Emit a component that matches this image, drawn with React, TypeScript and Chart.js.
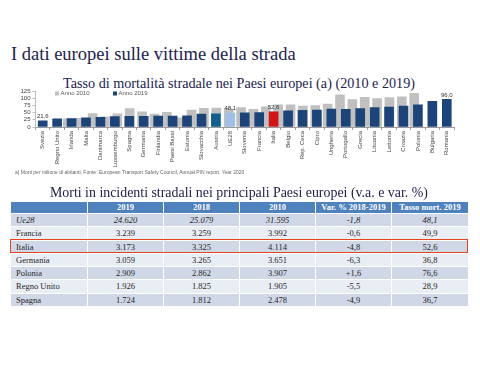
import React, { useEffect, useRef } from "react";
import { Chart, registerables } from "chart.js";

Chart.register(...registerables);

// ---------- chart data ----------
const countries = [
  "Svezia", "Regno Unito", "Irlanda", "Malta", "Danimarca", "Lussemburgo", "Spagna",
  "Germania", "Finlandia", "Paesi Bassi", "Estonia", "Slovacchia", "Austria", "UE28",
  "Slovenia", "Francia", "Italia", "Belgio", "Rep. Ceca", "Cipro", "Ungheria",
  "Portogallo", "Grecia", "Lituania", "Lettonia", "Croazia", "Polonia", "Bulgaria", "Romania",
];
const rate2010 = [28, 30, 47, 35, 46, 64, 53, 45, 51, 32, 59, 65, 66, 63, 67, 61, 70, 77, 77, 73, 74, 80, 112, 95, 103, 99, 102, 105, 117];
const rate2019 = [21.6, 28, 29, 32, 34, 36, 36.7, 36.8, 38, 38, 39, 45, 46, 48.1, 49, 49.9, 52.6, 56, 58, 59, 62, 61, 64, 67, 69, 73, 76.6, 89, 96.0];
const labelledCountries = ["Svezia", "UE28", "Italia", "Romania"];
const yMin = 0;
const yMax = 125;
const yStep = 25;
const seriesNames = ["Anno 2019", "Anno 2010"];
const footnote = "a)   Morti per milione di abitanti; Fonte: European Transport Safety Council, Annual PIN report. Year 2020";

// ---------- table data ----------
const tableHeader = ["", "2019", "2018", "2010", "Var. % 2018-2019", "Tasso mort. 2019"];
const tableCountries = ["Ue28", "Francia", "Italia", "Germania", "Polonia", "Regno Unito", "Spagna"];
const deaths2019 = [24620, 3239, 3173, 3059, 2909, 1926, 1724];
const deaths2018 = [25079, 3259, 3325, 3265, 2862, 1825, 1812];
const deaths2010 = [31595, 3992, 4114, 3651, 3907, 1905, 2478];
const varPct = [-1.8, -0.6, -4.8, -6.3, 1.6, -5.5, -4.9];
const mortRate2019 = [48.1, 49.9, 52.6, 36.8, 76.6, 28.9, 36.7];
const highlightedRow = "Italia";
const italicRow = "Ue28";

// ---------- styles ----------
const NAVY = "#1d4478";
const GRAY = "#c0c0c0";
const specialColors: Record<string, string> = {
  UE28: "#9fc0e6",
  Italia: "#d21414",
  Austria: "#12608e",
};
const TITLE_COLOR = "#22224f";
const SERIF = "'Liberation Serif', 'Times New Roman', serif";
const SANS = "'Liberation Sans', Arial, sans-serif";

function fmtInt(n: number) {
  return n.toString().replace(/\B(?=(\d{3})+(?!\d))/g, ".");
}
function fmtDec(n: number, sign = false) {
  const s = Math.abs(n).toFixed(1).replace(".", ",");
  return (n < 0 ? "-" : sign ? "+" : "") + s;
}

const valueLabelPlugin = {
  id: "valueLabels",
  afterDatasetsDraw(chart: any) {
    const meta = chart.getDatasetMeta(0);
    const ctx = chart.ctx;
    ctx.save();
    ctx.font = `6px ${SANS}`;
    ctx.fillStyle = "#333";
    ctx.textAlign = "center";
    ctx.textBaseline = "bottom";
    countries.forEach((c, i) => {
      if (!labelledCountries.includes(c)) return;
      const el = meta.data[i];
      ctx.fillText(fmtDec(rate2019[i]), el.x, el.y - 1.5);
    });
    ctx.restore();
  },
};

const innerLegendPlugin = {
  id: "innerLegend",
  afterDraw(chart: any) {
    const ctx = chart.ctx;
    const { left, top } = chart.chartArea;
    const ds = chart.data.datasets;
    const items = [ds[1], ds[0]];
    ctx.save();
    ctx.font = `6px ${SANS}`;
    ctx.textBaseline = "middle";
    ctx.textAlign = "left";
    let x = left + 19.5;
    items.forEach((d: any, k: number) => {
      ctx.fillStyle = k === 0 ? GRAY : NAVY;
      ctx.fillRect(x, top + 0.5, 4, 4);
      ctx.fillStyle = "#555";
      ctx.fillText(d.label, x + 5.5, top + 2.7);
      x += 58;
    });
    ctx.restore();
  },
};

function RateChart() {
  const ref = useRef<HTMLCanvasElement>(null);
  useEffect(() => {
    const shift = 0.3;
    const chart = new Chart(ref.current!, {
      type: "bar",
      data: {
        labels: countries,
        datasets: [
          {
            label: seriesNames[0],
            data: rate2019,
            backgroundColor: countries.map((c) => specialColors[c] ?? NAVY),
            barThickness: 9,
            grouped: false,
            order: 0,
            xAxisID: "x",
          } as any,
          {
            label: seriesNames[1],
            data: rate2010.map((v, i) => ({ x: i, y: v })),
            backgroundColor: GRAY,
            barThickness: 9,
            grouped: false,
            order: 1,
            xAxisID: "x2",
          } as any,
        ],
      },
      options: {
        animation: false,
        responsive: false,
        maintainAspectRatio: false,
        layout: { padding: { top: 6, right: 26, left: 0, bottom: 0 } },
        plugins: { legend: { display: false }, tooltip: { enabled: false }, title: { display: false } },
        scales: {
          x: {
            type: "category",
            offset: true,
            grid: { display: true, drawOnChartArea: false, tickLength: 3, color: "#9a9a9a", offset: true },
            border: { display: true, color: "#9a9a9a" },
            ticks: {
              minRotation: 90,
              maxRotation: 90,
              autoSkip: false,
              padding: 1,
              color: "#444",
              font: { size: 6, family: SANS },
            },
            afterFit: (s: any) => {
              s.height = 58;
            },
          },
          x2: {
            type: "linear",
            display: false,
            min: -0.5 + shift,
            max: countries.length - 0.5 + shift,
          },
          y: {
            min: yMin,
            max: yMax,
            ticks: { stepSize: yStep, autoSkip: false, color: "#444", padding: 2, font: { size: 6, family: SANS } },
            grid: { display: true, drawOnChartArea: false, tickLength: 3, color: "#bdbdbd" },
            border: { display: true, color: "#bdbdbd" },
            afterFit: (s: any) => {
              s.width = 35.5;
            },
          },
        },
      } as any,
      plugins: [valueLabelPlugin, innerLegendPlugin],
    });
    return () => chart.destroy();
  }, []);
  return <canvas ref={ref} width={480} height={100} style={{ width: 480, height: 100, display: "block" }} />;
}

function DataTable() {
  const colW = [76, 76, 76, 76, 76, 77];
  const rows = tableCountries.map((c, i) => [
    c,
    fmtInt(deaths2019[i]),
    fmtInt(deaths2018[i]),
    fmtInt(deaths2010[i]),
    fmtDec(varPct[i], true),
    fmtDec(mortRate2019[i]),
  ]);
  const hiIdx = tableCountries.indexOf(highlightedRow);
  const headerH = 11;
  const rowH = 13.3;
  return (
    <div style={{ position: "absolute", left: 11, top: 202, width: 457 }}>
      <div style={{ display: "flex", height: headerH, background: "#4f81bd" }}>
        {tableHeader.map((h, j) => (
          <div
            key={j}
            style={{
              width: colW[j],
              boxSizing: "border-box",
              borderLeft: j > 0 ? "1px solid #fff" : "none",
              color: "#fff",
              fontFamily: SERIF,
              fontWeight: "bold",
              fontSize: 8.5,
              lineHeight: headerH + "px",
              textAlign: "center",
              whiteSpace: "nowrap",
            }}
          >
            {h}
          </div>
        ))}
      </div>
      {rows.map((r, i) => (
        <div
          key={i}
          style={{
            display: "flex",
            height: rowH,
            boxSizing: "border-box",
            borderTop: "1px solid #fff",
            background: i % 2 === 0 ? "#d0d8e8" : "#e9edf4",
          }}
        >
          {r.map((v, j) => (
            <div
              key={j}
              style={{
                width: colW[j],
                boxSizing: "border-box",
                borderLeft: j > 0 ? "1px solid #fff" : "none",
                color: "#262626",
                fontFamily: SERIF,
                fontStyle: tableCountries[i] === italicRow ? "italic" : "normal",
                fontSize: 8.5,
                lineHeight: rowH - 1 + "px",
                textAlign: j === 0 ? "left" : "center",
                paddingLeft: j === 0 ? 5 : 0,
                whiteSpace: "nowrap",
              }}
            >
              {v}
            </div>
          ))}
        </div>
      ))}
      <div
        style={{
          position: "absolute",
          left: -1,
          top: headerH + hiIdx * rowH - 0.5,
          width: 458,
          height: rowH + 1,
          boxSizing: "border-box",
          border: "1.5px solid #e8431f",
        }}
      />
    </div>
  );
}

export default function App() {
  return (
    <div
      style={{
        position: "absolute",
        left: 0,
        top: 0,
        width: 480,
        height: 390,
        background: "#fff",
        overflow: "hidden",
      }}
    >
      <div
        style={{
          position: "absolute",
          left: 11,
          top: 45,
          fontFamily: SERIF,
          fontSize: 18.5,
          lineHeight: "19px",
          color: TITLE_COLOR,
          whiteSpace: "nowrap",
        }}
      >
        I dati europei sulle vittime della strada
      </div>
      <div
        style={{
          position: "absolute",
          left: 63,
          top: 76,
          fontFamily: SERIF,
          fontSize: 14.2,
          lineHeight: "14px",
          color: TITLE_COLOR,
          whiteSpace: "nowrap",
        }}
      >
        Tasso di mortalità stradale nei Paesi europei (a) (2010 e 2019)
      </div>
      <div style={{ position: "absolute", left: 0, top: 85 }}>
        <RateChart />
      </div>
      <div
        style={{
          position: "absolute",
          left: 15,
          top: 170,
          fontFamily: SANS,
          fontSize: 10,
          lineHeight: "10px",
          color: "#666",
          whiteSpace: "nowrap",
          transform: "scale(0.5)",
          transformOrigin: "0 0",
        }}
      >
        {footnote}
      </div>
      <div
        style={{
          position: "absolute",
          left: 50,
          top: 186,
          fontFamily: SERIF,
          fontSize: 13.9,
          lineHeight: "14px",
          color: TITLE_COLOR,
          whiteSpace: "nowrap",
        }}
      >
        Morti in incidenti stradali nei principali Paesi europei (v.a. e var. %)
      </div>
      <DataTable />
    </div>
  );
}
